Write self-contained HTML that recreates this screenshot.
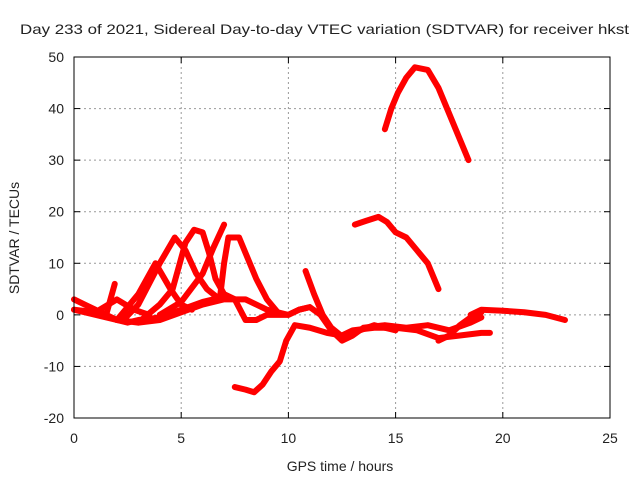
<!DOCTYPE html>
<html><head><meta charset="utf-8"><style>
body{margin:0;background:#fff;}
svg text{font-family:"Liberation Sans",sans-serif;font-size:14px;fill:#222;}
</style></head><body>
<svg width="640" height="480">
<rect width="640" height="480" fill="#fff"/>
<g id="grid"></g><g id="series"></g><g id="axes"></g>
</svg>
<script>
const xTicks=[0,5,10,15,20,25];
const yTicks=[-20,-10,0,10,20,30,40,50];
const traceA=[[14.5,36],[14.8,40],[15.1,43],[15.5,46],[15.9,48],[16.5,47.5],[17,44],[17.4,40],[17.8,36],[18.2,32],[18.4,30]];
const traceB=[[13.1,17.5],[13.6,18.2],[14.2,19],[14.6,18],[15,16],[15.5,15],[16,12.5],[16.5,10],[17,5]];
const traceC=[[7.5,-14],[8,-14.5],[8.4,-15],[8.8,-13.5],[9.2,-11],[9.6,-9],[9.9,-5],[10.3,-2],[11,-2.5],[11.8,-3.5],[12.5,-4],[13,-3],[14,-2.5],[15,-2.5],[16,-3],[17,-4.5],[18,-4],[19,-3.5],[19.4,-3.5]];
const traceD=[[18.5,0],[19,1],[20,0.8],[21,0.5],[22,0],[22.9,-1]];
const traceE=[[10.8,8.5],[11.2,4],[11.6,0],[12,-2.5],[12.6,-4.5],[13,-3.5],[14,-2],[15,-3]];
const traceF=[[17,-5],[17.5,-4],[18,-2],[18.5,-0.5],[19,0.5]];
const traceG=[[0,1],[1,0],[2,-1],[3,-1.5],[4,-1],[5,0.5],[6,2],[7,3],[8,3],[9,1],[10,0],[10.5,1],[11,1.5],[11.5,0],[12,-3],[12.5,-5],[13,-4],[13.5,-2.5],[14.5,-2],[15.5,-2.5],[16.5,-2],[17.5,-3],[18.5,-1.5],[19,-0.5]];
const traceH=[[0,3],[0.5,2],[1,1],[1.5,0],[2,-1],[2.5,-1.5],[3,-1],[4,-0.5],[5,1],[6,2.5],[7,3.5]];
const traceP1=[[0,1],[1,0.5],[1.5,0],[1.9,6]];
const traceP2=[[1.2,1],[2,3],[2.8,1],[3.5,0]];
const traceP3=[[2,-1],[3,4],[3.8,10],[4.5,5],[5,2],[5.5,1]];
const traceP4=[[2.3,-1],[3,2],[4,10],[4.7,15],[5.2,12.5],[5.7,8],[6.2,5],[6.8,3]];
const traceP5=[[3,-1.5],[4,2],[4.6,5],[5.2,14],[5.6,16.5],[6,16],[6.3,12],[6.6,7],[7,4],[7.5,3]];
const traceP6=[[4,0],[5,2.5],[6,8],[6.5,13],[7,17.5]];
const traceP7=[[6.8,3],[7,10],[7.2,15],[7.7,15],[8,12],[8.5,7],[9,3],[9.5,0.5]];
const traceP8=[[7,4],[7.5,3],[8,-1],[8.5,-1],[9,0],[10,0],[10.5,1],[11,1.5]];
const traces=[traceA,traceB,traceC,traceD,traceE,traceF,traceG,traceH,traceP1,traceP2,traceP3,traceP4,traceP5,traceP6,traceP7,traceP8];

const L=74,R=610,T=57,B=418,xmin=0,xmax=25,ymin=-20,ymax=50;
const X=v=>L+(v-xmin)/(xmax-xmin)*(R-L);
const Y=v=>B-(v-ymin)/(ymax-ymin)*(B-T);
const NS='http://www.w3.org/2000/svg';
function mk(tag,attrs,parent,text){const e=document.createElementNS(NS,tag);for(const k in attrs)e.setAttribute(k,attrs[k]);if(text!==undefined)e.textContent=text;parent.appendChild(e);return e;}
const grid=document.getElementById('grid'),axes=document.getElementById('axes'),ser=document.getElementById('series');
xTicks.forEach(t=>{
  if(t>xmin&&t<xmax){const g=mk('line',{x1:X(t),x2:X(t),y1:T,y2:B,stroke:'#999','stroke-dasharray':'2,3'},grid);
  
  }
  mk('line',{x1:X(t),x2:X(t),y1:B,y2:B-6,stroke:'#000'},axes);
  mk('line',{x1:X(t),x2:X(t),y1:T,y2:T+6,stroke:'#000'},axes);
  const tx=mk('text',{x:X(t),y:B+25,'text-anchor':'middle'},axes,String(t));
  
  
});
yTicks.forEach(t=>{
  if(t>ymin&&t<ymax){const g=mk('line',{x1:L,x2:R,y1:Y(t),y2:Y(t),stroke:'#999','stroke-dasharray':'2,3'},grid);
  
  }
  mk('line',{x1:L,x2:L+6,y1:Y(t),y2:Y(t),stroke:'#000'},axes);
  mk('line',{x1:R,x2:R-6,y1:Y(t),y2:Y(t),stroke:'#000'},axes);
  const tx=mk('text',{x:L-10,y:Y(t)+5,'text-anchor':'end'},axes,String(t));
  
  
});
const frame=mk('rect',{x:L,y:T,width:R-L,height:B-T,fill:'none',stroke:'#000'},axes);


traces.forEach((tr,i)=>{
  const p=mk('polyline',{points:tr.map(d=>X(d[0])+','+Y(d[1])).join(' '),fill:'none',stroke:'#f00','stroke-width':6,'stroke-linejoin':'round','stroke-linecap':'round'},ser);
  
  
});
const t1=mk('text',{x:20,y:34,textLength:609,lengthAdjust:'spacingAndGlyphs'},axes,'Day 233 of 2021, Sidereal Day-to-day VTEC variation (SDTVAR) for receiver hkst');


const t2=mk('text',{x:340,y:471,'text-anchor':'middle'},axes,'GPS time / hours');


const t3=mk('text',{x:19,y:238,'text-anchor':'middle',transform:'rotate(-90 19 238)'},axes,'SDTVAR / TECUs');


</script>
</body></html>
